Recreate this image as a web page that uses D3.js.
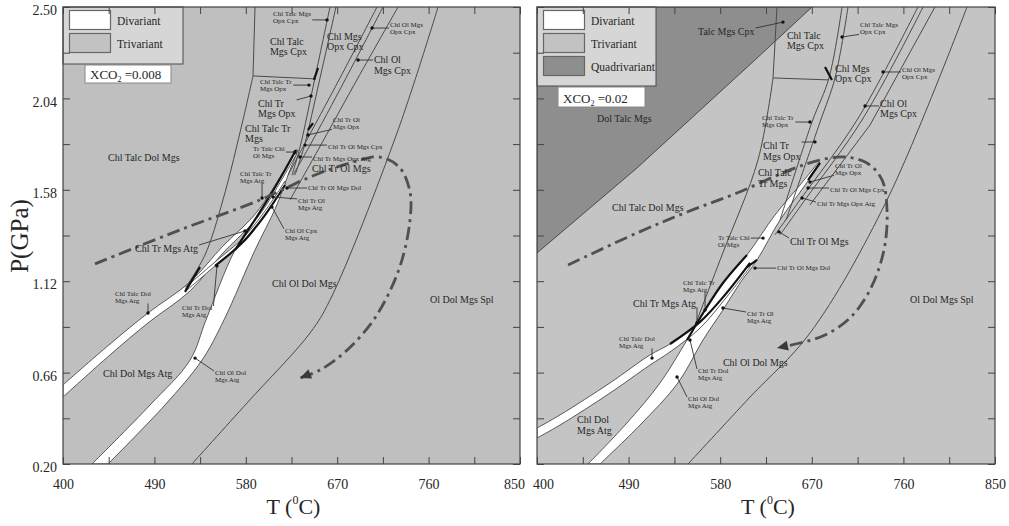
<!DOCTYPE html>
<html>
<head>
<meta charset="utf-8">
<script src="https://cdn.jsdelivr.net/npm/d3@7"></script>
<style>
body { margin: 0; background: #fff; }
text { font-family: "Liberation Serif", "Times New Roman", serif; fill: #262626; }
</style>
</head>
<body>
<svg id="chart" width="1009" height="526"></svg>
<script>
// axis ticks
let tempTicks = [400, 445, 490, 535, 580, 625, 670, 715, 760, 805, 850];
let tempLabels = [400, 490, 580, 670, 760, 850];
let presTicks = [0.20, 0.43, 0.66, 0.89, 1.12, 1.35, 1.58, 1.81, 2.04, 2.27, 2.50];
let presLabels = [0.20, 0.66, 1.12, 1.58, 2.04, 2.50];

// ---------- left panel, XCO2 = 0.008  (points are [T degC, P GPa]) ----------
let leftMainLo = [[428.6,0.20],[485.7,0.497],[525.1,0.723],[540.8,0.925],[569.4,1.277],[596.9,1.493],[618.6,1.680],[629.4,1.780]];
let leftMainHi = [[444.3,0.20],[500.4,0.497],[536.9,0.723],[558.5,0.925],[589.1,1.277],[609.7,1.493],[623.5,1.680],[631.4,1.780]];
let leftTalcUp = [[400,0.598],[446.3,0.804],[483.7,0.960],[525.1,1.116],[557.5,1.297],[584.1,1.428],[596.9,1.509],[629.4,1.775]];
let leftTalcDn = [[400,0.537],[446.3,0.749],[483.7,0.910],[525.1,1.071],[557.5,1.262],[584.1,1.398],[596.9,1.478],[629.4,1.755]];
let leftTrUp = [[521.1,1.091],[549.7,1.217],[577.2,1.337],[598.9,1.473],[618.6,1.624]];
let leftTrDn = [[521.1,1.071],[549.7,1.197],[577.2,1.317],[598.9,1.453],[618.6,1.604]];

let leftSpl = [[527.0,0.20],[581.2,0.507],[643.2,0.859],[662.9,1.025],[728.9,1.866],[769.3,2.50]];
let leftTalcBox = [[589.1,2.50],[587.1,2.153],[649.1,2.138]];
let leftTalcTr = [[587.1,2.153],[577.2,1.931],[557.5,1.529],[539.8,1.252],[521.1,1.091]];
let leftOpxA = [[662.9,2.50],[648.1,2.143],[633.4,1.795],[625.5,1.654]];
let leftOpxB = [[668.8,2.50],[653.1,2.143],[637.3,1.795],[628.4,1.654]];
let leftOlA = [[709.2,2.50],[672.8,2.143],[636.3,1.795],[621.6,1.654]];
let leftOlB = [[715.1,2.50],[678.7,2.143],[642.2,1.795],[626.5,1.654]];
let leftCpx = [[729.9,2.50],[686.5,2.107],[651.1,1.780],[623.5,1.529]];
let leftHeavy = [
  [[520.1,1.066],[534.9,1.191]],
  [[569.4,1.277],[596.9,1.493],[618.6,1.680],[629.4,1.780]],
  [[549.7,1.197],[577.2,1.317],[598.9,1.453],[618.6,1.604]],
  [[641.2,1.881],[646.2,1.916]],
  [[651.1,2.193],[647.1,2.133]]
];
let leftPath = [[431.5,1.207],[515.2,1.378],[594.0,1.529],[643.2,1.644],[682.6,1.715],[712.1,1.745],[731.8,1.690],[741.7,1.569],[741.7,1.428],[733.8,1.227],[720.0,1.050],[702.3,0.900],[677.7,0.764],[653.1,0.673],[633.4,0.633]];

let leftBig = [
  ["Chl Talc\nMgs Cpx", 603.8, 2.309],
  ["Chl Mgs\nOpx Cpx", 660.0, 2.334],
  ["Chl Ol\nMgs Cpx", 706.2, 2.218, 690.5, 2.233],
  ["Chl Tr\nMgs Opx", 592.0, 1.997, 644.2, 2.052],
  ["Chl Talc Tr\nMgs", 579.2, 1.871],
  ["Chl Talc Dol Mgs", 444.3, 1.725],
  ["Chl Tr Ol Mgs", 645.2, 1.670],
  ["Chl Tr Mgs Atg", 470.9, 1.267, 579.2, 1.373],
  ["Chl Ol Dol Mgs", 605.8, 1.091],
  ["Chl Dol Mgs Atg", 439.4, 0.638],
  ["Ol Dol Mgs Spl", 761.4, 1.010]
];
let leftSmall = [
  ["Chl Talc Mgs\nOpx Cpx", 606.8, 2.455, 660.0, 2.435],
  ["Chl Ol Mgs\nOpx Cpx", 722.0, 2.399, 704.3, 2.394],
  ["Chl Talc Tr\nMgs Opx", 594.0, 2.112, 642.2, 2.107],
  ["Chl Tr Ol\nMgs Opx", 665.9, 1.921, 641.2, 1.856],
  ["Chl Tr Ol Mgs Cpx", 661.0, 1.785, 638.3, 1.805],
  ["Tr Talc Chl\nOl Mgs", 587.1, 1.775, 628.4, 1.770],
  ["Chl Tr Mgs Opx Atg", 646.2, 1.725, 633.4, 1.745],
  ["Chl Talc Tr\nMgs Atg", 574.3, 1.649, 596.0, 1.539],
  ["Chl Tr Ol Mgs Dol", 641.2, 1.579, 620.6, 1.589],
  ["Chl Tr Ol\nMgs Atg", 631.4, 1.514, 606.8, 1.544],
  ["Chl Ol Cpx\nMgs Atg", 618.6, 1.363, 605.8, 1.493],
  ["Chl Talc Dol\nMgs Atg", 451.2, 1.045, 483.7, 0.960],
  ["Chl Tr Dol\nMgs Atg", 517.2, 0.975, 551.6, 1.197],
  ["Chl Ol Dol\nMgs Atg", 549.7, 0.648, 530.0, 0.733]
];

// ---------- right panel, XCO2 = 0.02 ----------
let rightQuad = [[400,1.262],[498.3,1.690],[616.2,2.243],[670.2,2.50],[400,2.50]];
let rightMainLo = [[450.1,0.20],[486.5,0.396],[520.9,0.608],[547.4,0.824],[565.1,0.975],[582.7,1.111],[606.3,1.252],[633.8,1.453],[658.4,1.604],[676.1,1.715]];
let rightMainHi = [[461.9,0.20],[501.2,0.396],[538.5,0.608],[563.1,0.824],[582.7,0.975],[599.5,1.111],[616.2,1.227],[638.8,1.428],[661.4,1.589],[678.1,1.715]];
let rightTalcUp = [[400,0.381],[422.6,0.447],[471.7,0.608],[511.0,0.749],[530.7,0.804],[560.2,0.915],[584.7,1.051],[609.3,1.212]];
let rightTalcDn = [[400,0.331],[422.6,0.396],[471.7,0.557],[511.0,0.698],[530.7,0.764],[560.2,0.884],[584.7,1.030],[609.3,1.191]];

let rightSpl = [[548.4,0.20],[609.3,0.537],[668.2,0.859],[743.9,1.529],[822.5,2.50]];
let rightTalcBox = [[635.8,2.50],[631.9,2.143],[686.9,2.133]];
let rightTalcTr = [[631.9,2.143],[617.1,1.730],[581.8,1.252],[552.3,0.859]];
let rightOpxA = [[699.7,2.50],[686.9,2.143],[670.2,1.921],[638.8,1.428]];
let rightOpxB = [[705.6,2.50],[692.8,2.143],[678.1,1.921],[644.7,1.428]];
let rightOlA = [[774.3,2.50],[714.4,1.931],[658.4,1.529],[633.8,1.353]];
let rightOlB = [[779.3,2.50],[719.3,1.931],[663.3,1.529],[638.8,1.353]];
let rightCpx = [[791.0,2.50],[727.2,1.906],[668.2,1.504]];
let rightHeavy = [
  [[530.7,0.804],[560.2,0.915],[584.7,1.051],[609.3,1.212]],
  [[547.4,0.824],[565.1,0.975],[582.7,1.111],[606.3,1.252]],
  [[666.3,1.629],[678.1,1.715]],
  [[683.0,2.198],[689.8,2.133]],
  [[606.3,1.191],[616.2,1.227]]
];
let rightPath = [[430.5,1.202],[498.3,1.363],[547.4,1.468],[596.5,1.564],[648.6,1.680],[678.1,1.730],[702.6,1.745],[724.2,1.715],[739.0,1.630],[743.9,1.478],[740.9,1.277],[727.2,1.076],[707.5,0.935],[683.0,0.849],[658.4,0.809],[635.8,0.784]];

let rightBig = [
  ["Talc Mgs Cpx", 558.2, 2.359, 641.7, 2.424],
  ["Chl Talc\nMgs Cpx", 645.6, 2.339],
  ["Chl Mgs\nOpx Cpx", 692.8, 2.173],
  ["Chl Ol\nMgs Cpx", 737.0, 1.997, 722.3, 2.002],
  ["Chl Tr\nMgs Opx", 622.1, 1.785, 673.1, 1.821],
  ["Chl Talc\nTr Mgs", 617.1, 1.649],
  ["Chl Tr Ol Mgs", 648.6, 1.302, 637.8, 1.368],
  ["Chl Tr Mgs Atg", 494.3, 0.990, 557.2, 0.910],
  ["Chl Ol Dol Mgs", 582.7, 0.693],
  ["Chl Dol\nMgs Atg", 439.3, 0.406],
  ["Chl Talc Dol Mgs", 473.7, 1.473],
  ["Ol Dol Mgs Spl", 766.5, 1.010],
  ["Dol Talc Mgs", 459.0, 1.921]
];
let rightSmall = [
  ["Chl Talc Mgs\nOpx Cpx", 717.4, 2.399, 699.7, 2.349],
  ["Chl Ol Mgs\nOpx Cpx", 758.6, 2.173, 740.0, 2.173],
  ["Chl Talc Tr\nMgs Opx", 621.1, 1.931, 668.2, 1.921],
  ["Chl Tr Ol\nMgs Opx", 692.8, 1.690, 668.2, 1.619],
  ["Chl Tr Ol Mgs Cpx", 687.9, 1.569, 666.3, 1.589],
  ["Chl Tr Mgs Opx Atg", 675.1, 1.498, 660.4, 1.539],
  ["Tr Talc Chl\nOl Mgs", 577.8, 1.327, 622.1, 1.337],
  ["Chl Tr Ol Mgs Dol", 635.8, 1.176, 614.2, 1.186],
  ["Chl Talc Tr\nMgs Atg", 543.4, 1.101, 565.1, 0.975],
  ["Chl Tr Ol\nMgs Atg", 606.3, 0.945, 582.7, 0.985],
  ["Chl Talc Dol\nMgs Atg", 480.6, 0.819, 513.0, 0.733],
  ["Chl Tr Dol\nMgs Atg", 558.2, 0.658, 550.3, 0.824],
  ["Chl Ol Dol\nMgs Atg", 548.4, 0.517, 537.6, 0.638]
];

let legendLeft = ["Divariant", "Trivariant"];
let legendRight = ["Divariant", "Trivariant", "Quadrivariant"];

// ---------- drawing ----------
let svg = d3.select("#chart");
let y = d3.scaleLinear().domain([0.2, 2.5]).range([464, 7]);
let lineColor = "#4a4a4a";
let swatch = { Divariant: "#ffffff", Trivariant: "#c2c2c2", Quadrivariant: "#8e8e8e" };

let panels = [
  { id: "L", range: [63, 520], bg: "#bfbfbf",
    bands: [[leftMainLo, leftMainHi], [leftTalcUp, leftTalcDn], [leftTrUp, leftTrDn]],
    lines: [leftSpl, leftTalcBox, leftTalcTr, leftOpxA, leftOpxB, leftOlA, leftOlB, leftCpx],
    heavy: leftHeavy, path: leftPath, big: leftBig, small: leftSmall,
    legend: legendLeft, legendBox: [120, 57], xco2: "0.008", xcoBox: [22, 65, 86, 18] },
  { id: "R", range: [537, 995], bg: "#c4c4c4", quad: rightQuad,
    bands: [[rightMainLo, rightMainHi], [rightTalcUp, rightTalcDn]],
    lines: [rightSpl, rightTalcBox, rightTalcTr, rightOpxA, rightOpxB, rightOlA, rightOlB, rightCpx],
    heavy: rightHeavy, path: rightPath, big: rightBig, small: rightSmall,
    legend: legendRight, legendBox: [119, 79], xco2: "0.02", xcoBox: [21, 87, 87, 20] }
];

panels.forEach((p, pi) => {
  let x = d3.scaleLinear().domain([400, 850]).range(p.range);
  let curve = d3.line().x(d => x(d[0])).y(d => y(d[1])).curve(d3.curveCatmullRom.alpha(0.5));
  let straight = d3.line().x(d => x(d[0])).y(d => y(d[1]));
  let [x0, x1] = p.range;

  svg.append("clipPath").attr("id", "clip" + p.id)
     .append("rect").attr("x", x0).attr("y", 7).attr("width", x1 - x0).attr("height", 457);

  let g = svg.append("g").attr("clip-path", `url(#clip${p.id})`);

  g.append("rect").attr("x", x0).attr("y", 7).attr("width", x1 - x0).attr("height", 457)
   .attr("fill", p.bg);

  if (p.quad) {
    g.append("path").attr("d", straight(p.quad) + "Z")
     .attr("fill", swatch.Quadrivariant).attr("stroke", lineColor).attr("stroke-width", 1);
  }

  // divariant fields (white bands)
  p.bands.forEach(([a, b]) => {
    let d = curve(a) + curve(b.slice().reverse()).replace(/^M/, "L") + "Z";
    g.append("path").attr("d", d).attr("fill", "#fff")
     .attr("stroke", lineColor).attr("stroke-width", 0.9);
  });

  p.lines.forEach(l => {
    g.append("path").attr("d", l.length > 3 ? curve(l) : straight(l))
     .attr("fill", "none").attr("stroke", lineColor).attr("stroke-width", 1);
  });

  p.heavy.forEach(l => {
    g.append("path").attr("d", curve(l)).attr("fill", "none")
     .attr("stroke", "#111").attr("stroke-width", 2.2);
  });

  // P-T path (dash-dot) with arrowhead
  g.append("path").attr("d", curve(p.path)).attr("fill", "none")
   .attr("stroke", "#505050").attr("stroke-width", 2.8)
   .attr("stroke-dasharray", "13,5,3,5");
  let e1 = p.path[p.path.length - 1], e0 = p.path[p.path.length - 2];
  let ang = Math.atan2(y(e1[1]) - y(e0[1]), x(e1[0]) - x(e0[0]));
  let ex = x(e1[0]), ey = y(e1[1]);
  let head = [[ex, ey],
              [ex - 11 * Math.cos(ang) + 5 * Math.sin(ang), ey - 11 * Math.sin(ang) - 5 * Math.cos(ang)],
              [ex - 11 * Math.cos(ang) - 5 * Math.sin(ang), ey - 11 * Math.sin(ang) + 5 * Math.cos(ang)]];
  g.append("polygon").attr("points", head.map(d => d.join(",")).join(" ")).attr("fill", "#3a3a3a");

  // field labels
  let addLabel = (d, size) => {
    let [txt, T, P, tT, tP] = d;
    let t = g.append("text").attr("x", x(T)).attr("y", y(P)).attr("font-size", size);
    txt.split("\n").forEach((s, i) => {
      t.append("tspan").attr("x", x(T)).attr("dy", i ? "1.05em" : 0).text(s);
    });
    if (tT !== undefined) {
      let b = t.node().getBBox();
      let tx = x(tT), ty = y(tP);
      let sx = Math.max(b.x - 1, Math.min(tx, b.x + b.width + 1));
      let sy = Math.max(b.y + 2, Math.min(ty, b.y + b.height - 2));
      g.append("line").attr("x1", sx).attr("y1", sy).attr("x2", tx).attr("y2", ty)
       .attr("stroke", "#333").attr("stroke-width", 0.9);
      g.append("circle").attr("cx", tx).attr("cy", ty).attr("r", 1.7).attr("fill", "#111");
    }
  };
  p.big.forEach(d => addLabel(d, 10));
  p.small.forEach(d => addLabel(d, 7));

  // legend
  let [lw, lh] = p.legendBox;
  let lg = svg.append("g");
  lg.append("rect").attr("x", x0).attr("y", 7).attr("width", lw).attr("height", lh)
    .attr("fill", "#d6d6d6").attr("stroke", lineColor);
  p.legend.forEach((name, i) => {
    lg.append("rect").attr("x", x0 + 6.5).attr("y", 10.5 + i * 23).attr("width", 41).attr("height", 19)
      .attr("fill", swatch[name]).attr("stroke", "#666").attr("stroke-width", 1.2);
    lg.append("text").attr("x", x0 + 54).attr("y", 24.5 + i * 23).attr("font-size", 11.5).text(name);
  });
  let [bx, by, bw, bh] = p.xcoBox;
  lg.append("rect").attr("x", x0 + bx).attr("y", by).attr("width", bw).attr("height", bh)
    .attr("fill", "#fff").attr("stroke", "#888");
  let xt = lg.append("text").attr("x", x0 + bx + 5).attr("y", by + bh - 4).attr("font-size", 13);
  xt.append("tspan").text("XCO");
  xt.append("tspan").attr("font-size", 8).attr("dy", 3).text("2");
  xt.append("tspan").attr("dy", -3).text(" =" + p.xco2);

  // frame + ticks
  let ax = svg.append("g");
  let styleAxis = sel => {
    sel.select(".domain").remove();
    sel.selectAll(".tick line").attr("stroke", "#444");
    sel.selectAll("text").attr("font-family", "Liberation Serif, serif").attr("font-size", 14).attr("fill", "#222");
  };
  let tempFmt = d => tempLabels.includes(d) ? d : "";
  ax.append("g").attr("transform", "translate(0,464)")
    .call(d3.axisBottom(x).tickValues(tempTicks).tickSize(-7).tickPadding(15).tickFormat(tempFmt))
    .call(styleAxis)
    .selectAll("text").attr("dx", d => (pi === 0 && d === 850) ? -6 : (pi === 1 && d === 400) ? 6 : 0);
  ax.append("g").attr("transform", "translate(0,7)")
    .call(d3.axisTop(x).tickValues(tempTicks).tickSize(-7).tickFormat(""))
    .call(styleAxis);
  ax.append("g").attr("transform", `translate(${x0},0)`)
    .call(d3.axisLeft(y).tickValues(presTicks).tickSize(-7).tickPadding(6)
      .tickFormat(d => (pi === 0 && presLabels.includes(d)) ? d.toFixed(2) : ""))
    .call(styleAxis)
    .selectAll("text").attr("dy", "0.55em");
  ax.append("g").attr("transform", `translate(${x1},0)`)
    .call(d3.axisRight(y).tickValues(presTicks).tickSize(-7).tickFormat(""))
    .call(styleAxis);
  ax.append("rect").attr("x", x0).attr("y", 7).attr("width", x1 - x0).attr("height", 457)
    .attr("fill", "none").attr("stroke", "#444").attr("stroke-width", 1.2);

  // x axis title
  let tt = svg.append("text").attr("x", (x0 + x1) / 2 + 2).attr("y", 514)
    .attr("text-anchor", "middle").attr("font-size", 22);
  tt.append("tspan").text("T (");
  tt.append("tspan").attr("font-size", 12).attr("dy", -10).text("0");
  tt.append("tspan").attr("dy", 10).text("C)");
});

svg.append("text").attr("transform", "translate(28,236) rotate(-90)")
   .attr("text-anchor", "middle").attr("font-size", 25).text("P(GPa)");
</script>
</body>
</html>
